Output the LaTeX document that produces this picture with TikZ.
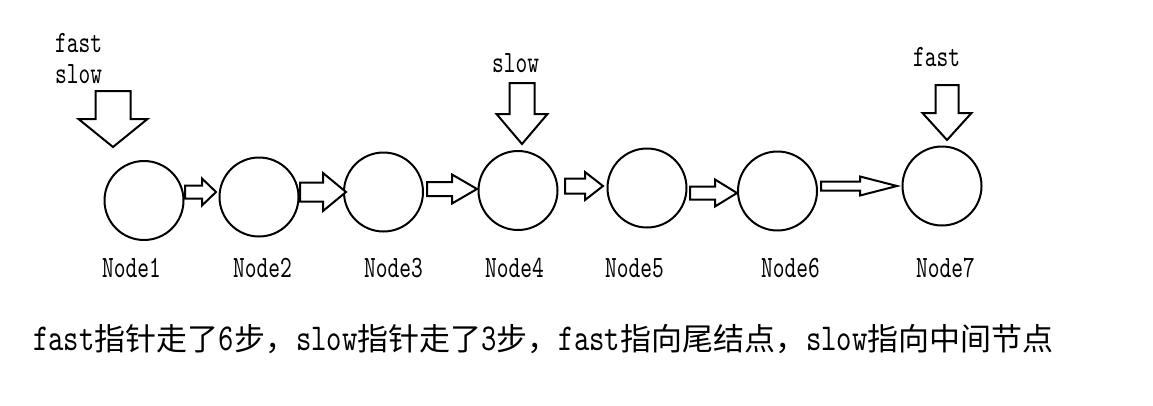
\documentclass[tikz,border=0pt]{standalone}
\usepackage{fontspec}
\usetikzlibrary{calc}
\newfontfamily\latfam{lmmono10-regular}[Extension=.otf, FakeStretch=0.72]
\newfontfamily\latbfam{lmmono10-regular}[Extension=.otf, FakeStretch=0.77]
\newfontfamily\cjkfam{Noto Sans CJK SC}
\newcommand\latS{\latfam\fontsize{31pt}{36pt}\selectfont}
\newcommand\latB{\latbfam\fontsize{38pt}{44pt}\selectfont}
\newcommand\cjkB{\cjkfam\fontsize{31pt}{36pt}\selectfont}
% horizontal block arrow: tail, tip, shaft half-width, head half-width, head length
\newcommand\harr[5]{\draw[blk] let \p1=(#1),\p2=(#2) in
  (\x1,\y2+#3) -- (\x2-#5,\y2+#3) -- (\x2-#5,\y2+#4) -- (\x2,\y2)
  -- (\x2-#5,\y2-#4) -- (\x2-#5,\y2-#3) -- (\x1,\y2-#3) -- cycle;}
% vertical (downward) block arrow: top, tip, shaft half-width, head half-width, head length
\newcommand\varr[5]{\draw[blk] let \p1=(#1),\p2=(#2) in
  (\x2-#3,\y1) -- (\x2-#3,\y2+#5) -- (\x2-#4,\y2+#5) -- (\x2,\y2)
  -- (\x2+#4,\y2+#5) -- (\x2+#3,\y2+#5) -- (\x2+#3,\y1) -- cycle;}
\tikzset{
  circ/.style={circle, draw, line width=2pt, minimum size=79pt, inner sep=0pt},
  blk/.style={draw, fill=white, line width=2pt, line join=miter},
  lbl/.style={anchor=base west, inner sep=0pt, font=\latS},
}
\begin{document}
\begin{tikzpicture}[x=1pt,y=-1pt]
\useasboundingbox (0,0) rectangle (1153,405);
% list nodes
\node[circ] (n1) at (144,200.5) {};
\node[circ] (n2) at (259,197) {};
\node[circ] (n3) at (383.5,192) {};
\node[circ] (n4) at (518,190.5) {};
\node[circ] (n5) at (647,188) {};
\node[circ] (n6) at (777.5,191) {};
\node[circ] (n7) at (942,186) {};
% node labels
\node[lbl] (l1) at (102,277) {Node1};
\node[lbl] (l2) at (233,277) {Node2};
\node[lbl] (l3) at (364,277) {Node3};
\node[lbl] (l4) at (485,277) {Node4};
\node[lbl] (l5) at (605,277) {Node5};
\node[lbl] (l6) at (761,277) {Node6};
\node[lbl] (l7) at (916,277) {Node7};
% pointer labels
\node[lbl] (pf1) at (55,52) {fast};
\node[lbl] (ps1) at (55,83) {slow};
\node[lbl] (ps4) at (492,72) {slow};
\node[lbl] (pf7) at (913,66) {fast};
% connector end points
\coordinate (a12s) at (185,192);
\coordinate (a12e) at (216,192);
\coordinate (a23s) at (300,192);
\coordinate (a23e) at (346,192);
\coordinate (a34s) at (427,189);
\coordinate (a34e) at (477,189);
\coordinate (a45s) at (565,186);
\coordinate (a45e) at (603,186);
\coordinate (a56s) at (690,193);
\coordinate (a56e) at (737,193);
\coordinate (a67s) at (821,186);
\coordinate (a67e) at (897,186);
\coordinate (d1s) at (113,91);
\coordinate (d1e) at (113,147);
\coordinate (d4s) at (522,83);
\coordinate (d4e) at (522,144);
\coordinate (d7s) at (947,85);
\coordinate (d7e) at (947,140);
% next arrows
\harr{a12s}{a12e}{6.5}{13.5}{14}
\harr{a23s}{a23e}{9.5}{19}{23}
\harr{a34s}{a34e}{7}{14.5}{25}
\harr{a45s}{a45e}{7.5}{14}{18}
\harr{a56s}{a56e}{6.5}{13.5}{22}
\harr{a67s}{a67e}{4.5}{9.5}{37}
% pointer arrows
\varr{d1s}{d1e}{17.5}{34.5}{28}
\varr{d4s}{d4e}{12.5}{25.5}{30}
\varr{d7s}{d7e}{11.5}{24.5}{27}
% caption
\node[anchor=base west, inner sep=0pt] (cap) at (33,350)
  {\latB fast\cjkB 指针走了\latB 6\cjkB 步，\latB slow\cjkB 指针走了\latB 3\cjkB 步，\latB fast\cjkB 指向尾结点，\latB slow\cjkB 指向中间节点};
\end{tikzpicture}
\end{document}
